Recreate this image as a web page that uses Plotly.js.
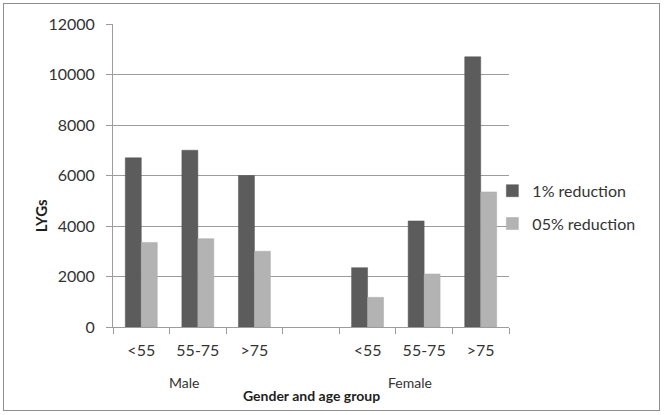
<!DOCTYPE html>
<html>
<head>
<meta charset="utf-8">
<script src="https://cdn.plot.ly/plotly-3.0.1.min.js"></script>
<style>
  html, body { margin: 0; padding: 0; background: #fff; }
  #wrap { position: relative; width: 664px; height: 415px; }
  #chart { width: 664px; height: 415px; }
  #frame { position: absolute; left: 3px; top: 3px; width: 655px; height: 406px;
           border: 1.5px solid #8e8e8e; pointer-events: none; }
</style>
</head>
<body>
<div id="wrap">
  <div id="chart"></div>
  <div id="frame"></div>
</div>
<script>
// ---- data ----
const genders = ["Male", "Female"];
const ageGroups = ["<55", "55-75", ">75"];
const maleOnePct = [6700, 7000, 6000];
const femaleOnePct = [2350, 4200, 10700];
const maleHalfPct = [3350, 3500, 3000];
const femaleHalfPct = [1175, 2100, 5350];
const seriesNames = ["1% reduction", "05% reduction"];
const yTicks = [0, 2000, 4000, 6000, 8000, 10000, 12000];
const yTickText = ["0", "2000", "4000", "6000", "8000", "10000", "12000"];

// category slots: Male groups, an empty spacer slot, Female groups
const maleIds = ageGroups.map(a => genders[0] + " " + a);
const femaleIds = ageGroups.map(a => genders[1] + " " + a);
const spacer = "spacer";
const slotIds = [...maleIds, spacer, ...femaleIds];
const slotText = [...ageGroups, "", ...ageGroups];

const font = "Lato, 'Open Sans', sans-serif";
const txt = "#333333";
const grid = "#9c9c9c";

const traces = [
  {
    type: "bar", name: seriesNames[0], legendgroup: "a",
    x: slotIds, y: [...maleOnePct, null, ...femaleOnePct],
    marker: { color: "#5c5c5c", line: { color: "#555555", width: 0.5 } }, hoverinfo: "x+y"
  },
  {
    type: "bar", name: seriesNames[1], legendgroup: "b",
    x: slotIds, y: [...maleHalfPct, null, ...femaleHalfPct],
    marker: { color: "#b3b3b3", line: { color: "#aaaaaa", width: 0.5 } }, hoverinfo: "x+y"
  }
];

const layout = {
  width: 664, height: 415,
  margin: { l: 113, r: 155, t: 24, b: 88 },
  paper_bgcolor: "#ffffff", plot_bgcolor: "#ffffff",
  font: { family: font, size: 16, color: txt },
  barmode: "group", bargap: 0.435, bargroupgap: 0,
  showlegend: true,
  legend: {
    x: 0.958, xanchor: "left", y: 0.395, yanchor: "middle",
    traceorder: "grouped", tracegroupgap: 9,
    font: { family: font, size: 16, color: txt },
    bgcolor: "rgba(0,0,0,0)", borderwidth: 0
  },
  xaxis: {
    type: "category", categoryorder: "array", categoryarray: slotIds,
    tickmode: "array", tickvals: slotIds, ticktext: slotText,
    tickson: "boundaries", ticks: "outside", ticklen: 6, tickcolor: grid,
    showline: true, linecolor: grid, linewidth: 1,
    showgrid: false, zeroline: false,
    ticklabelstandoff: 9,
    tickfont: { family: font, size: 16, color: txt },
    fixedrange: true
  },
  yaxis: {
    range: [0, 12000], tickmode: "array", tickvals: yTicks, ticktext: yTickText,
    ticks: "outside", ticklen: 6, tickcolor: grid,
    showline: true, linecolor: grid, linewidth: 1,
    showgrid: true, gridcolor: grid, gridwidth: 1, zeroline: false,
    ticklabelstandoff: 8,
    tickfont: { family: font, size: 16, color: txt },
    fixedrange: true
  },
  annotations: [
    { text: "<b>LYGs</b>", xref: "paper", yref: "paper", x: -0.183, y: 0.367,
      xanchor: "center", yanchor: "middle",
      textangle: -90, showarrow: false, font: { family: font, size: 15, color: "#1e1e1e" } },
    { text: "<b>Gender and age group</b>", xref: "paper", yref: "paper", x: 0.5, y: -0.226,
      xanchor: "center", yanchor: "middle",
      showarrow: false, font: { family: font, size: 14, color: "#1e1e1e" } },
    { text: genders[0], xref: "x", yref: "paper", x: maleIds[1], y: -0.184, xshift: -14,
      xanchor: "center", yanchor: "middle",
      showarrow: false, font: { family: font, size: 14, color: txt } },
    { text: genders[1], xref: "x", yref: "paper", x: femaleIds[1], y: -0.184, xshift: -14,
      xanchor: "center", yanchor: "middle",
      showarrow: false, font: { family: font, size: 14, color: txt } }
  ]
};

Plotly.newPlot("chart", traces, layout, { displayModeBar: false, staticPlot: true });
</script>
</body>
</html>
